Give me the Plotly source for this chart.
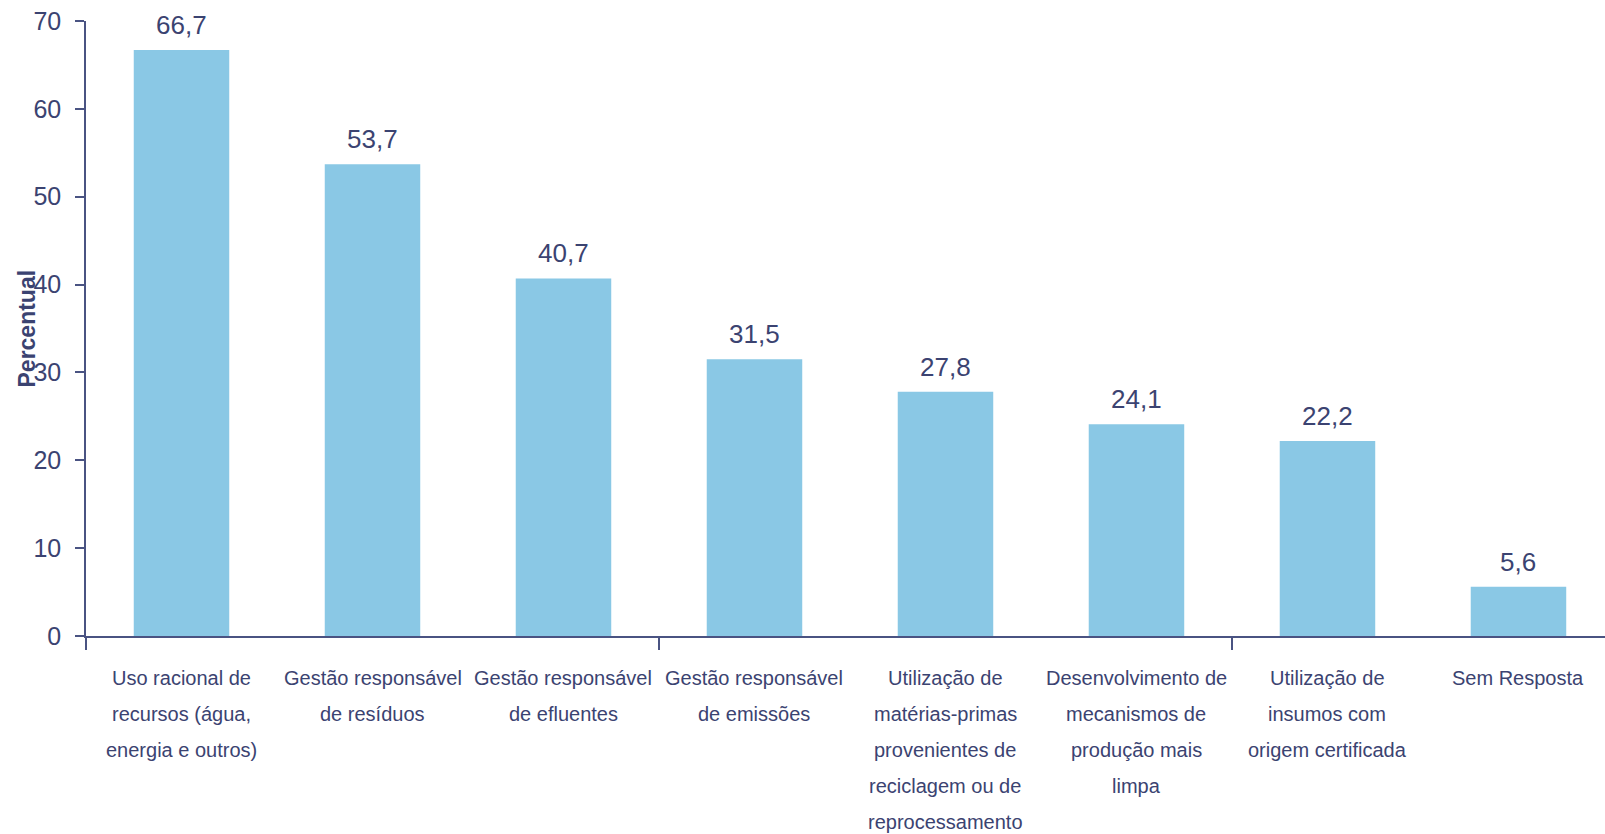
import plotly.graph_objects as go

# Práticas ambientais adotadas (% das empresas)
categories = [
    "Uso racional de<br>recursos (água,<br>energia e outros)",
    "Gestão responsável<br>de resíduos",
    "Gestão responsável<br>de efluentes",
    "Gestão responsável<br>de emissões",
    "Utilização de<br>matérias-primas<br>provenientes de<br>reciclagem ou de<br>reprocessamento",
    "Desenvolvimento de<br>mecanismos de<br>produção mais<br>limpa",
    "Utilização de<br>insumos com<br>origem certificada",
    "Sem Resposta",
]
values = [66.7, 53.7, 40.7, 31.5, 27.8, 24.1, 22.2, 5.6]
y_ticks = [0, 10, 20, 30, 40, 50, 60, 70]

TEXT = "#3b4371"
AXIS = "#4a5382"
BAR = "#8ac8e5"
FONT = "Liberation Sans, Arial, sans-serif"

positions = list(range(len(categories)))

fig = go.Figure(
    go.Bar(
        x=positions,
        y=values,
        marker=dict(color=BAR, line=dict(width=0)),
        width=0.5,
        hoverinfo="skip",
    )
)

annotations = []
# value labels above bars
for xi, v in zip(positions, values):
    annotations.append(dict(
        x=xi, y=v, xref="x", yref="y",
        text=f"{v:.1f}".replace(".", ","),
        showarrow=False, yanchor="bottom", yshift=8,
        font=dict(family=FONT, size=26, color=TEXT),
    ))

# category labels, one annotation per line for wider line spacing
for xi, cat in zip(positions, categories):
    for li, line in enumerate(cat.split("<br>")):
        annotations.append(dict(
            x=xi, y=0, xref="x", yref="paper",
            text=line, showarrow=False,
            yanchor="middle", yshift=-(41.5 + 36 * li),
            font=dict(family=FONT, size=20, color=TEXT),
        ))

# y-axis title
annotations.append(dict(
    x=0, y=0.5, xref="paper", yref="paper",
    text="<b>Percentual</b>", textangle=-90, showarrow=False,
    xanchor="center", yanchor="middle", xshift=-60,
    font=dict(family=FONT, size=23, color=TEXT),
))

fig.update_layout(
    width=1605, height=834,
    margin=dict(l=86, r=0, t=21, b=198),
    paper_bgcolor="white", plot_bgcolor="white",
    showlegend=False,
    annotations=annotations,
    xaxis=dict(
        range=[-0.5, 7.453],
        tickvals=[-0.5, 2.5, 5.5],
        ticktext=["", "", ""],
        ticks="outside", ticklen=12, tickwidth=1.5, tickcolor=AXIS,
        showline=True, linecolor=AXIS, linewidth=2,
        showgrid=False, zeroline=False, fixedrange=True,
    ),
    yaxis=dict(
        range=[0, 70],
        tickvals=y_ticks,
        ticks="outside", ticklen=9, tickwidth=1.5, tickcolor=AXIS,
        ticklabelstandoff=9,
        showline=True, linecolor=AXIS, linewidth=1.5,
        showgrid=False, zeroline=False, fixedrange=True,
        tickfont=dict(family=FONT, size=25, color=TEXT),
    ),
)

fig.write_html("out.html", config={"displayModeBar": False})
